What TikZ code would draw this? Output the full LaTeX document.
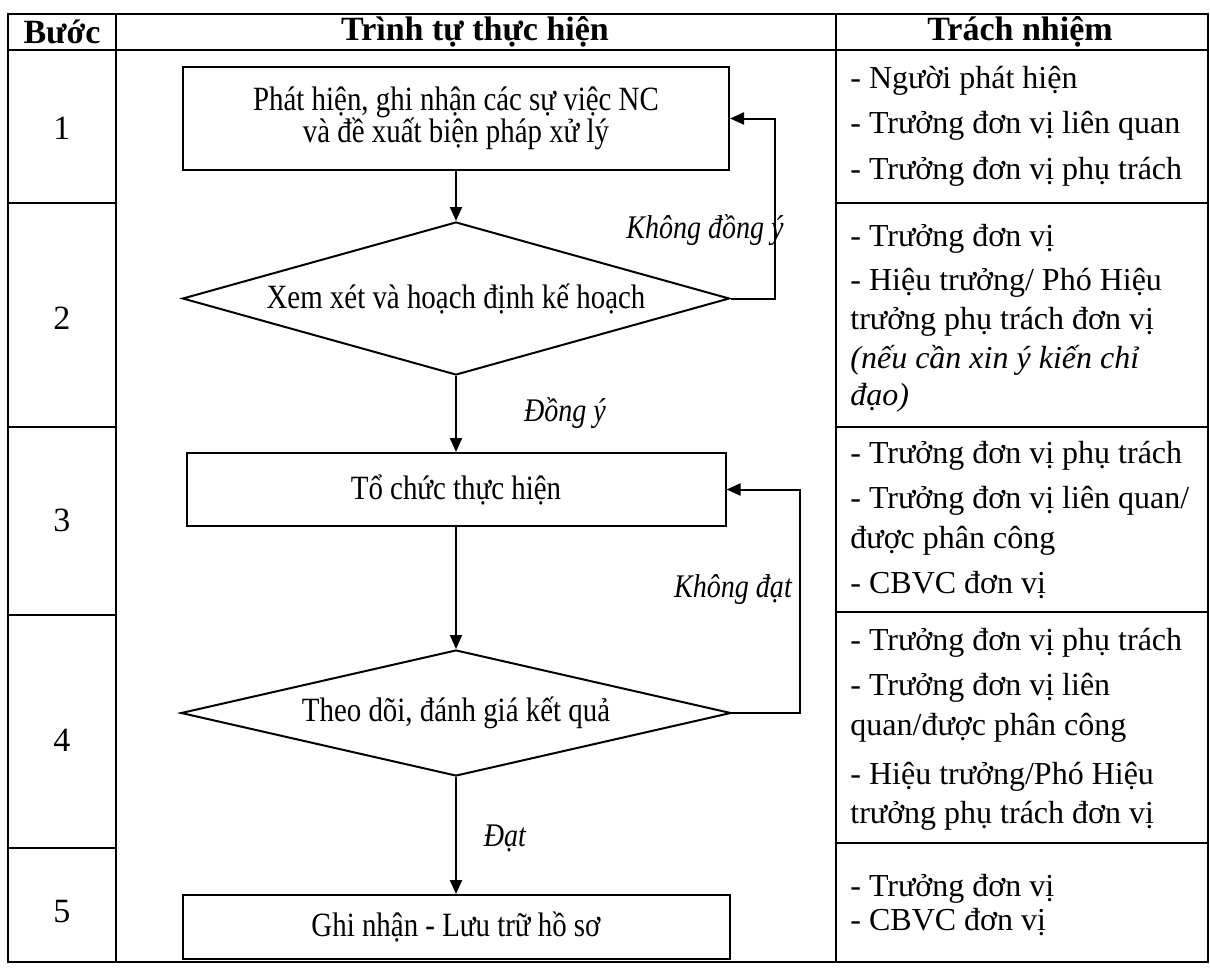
\documentclass[tikz,border=0pt]{standalone}
\usepackage{fontspec}
\setmainfont{Liberation Serif}
\newfontfamily\flowfont[FakeStretch=0.85]{Liberation Serif}
\usetikzlibrary{positioning,arrows.meta,shapes.geometric}

\begin{document}
\begin{tikzpicture}[x=0.5pt,y=-0.5pt,
  font=\fontsize{17}{19.5}\selectfont,
  grid/.style={line width=0.8pt},
  proc/.style={draw, line width=1pt, inner sep=0pt, align=center,
    font=\flowfont\fontsize{17}{16}\selectfont},
  dec/.style={draw, diamond, line width=1pt, inner sep=0pt, align=center,
    font=\flowfont\fontsize{17}{16}\selectfont},
  arr/.style={line width=1pt, -{Triangle[length=7pt,width=6pt]}},
  lbl/.style={font=\flowfont\fontsize{16.5}{19}\selectfont\itshape},
  resp/.style={anchor=base west, inner sep=0pt, font=\fontsize{16}{19}\selectfont}]
\useasboundingbox (0,0) rectangle (1210,969);
% table frame
\draw[grid] (8,14) rectangle (1208,962);
\draw[grid] (8,50) -- (1208,50);
\draw[grid] (116,14) -- (116,962);
\draw[grid] (836,14) -- (836,962);
\foreach \y in {203,427,615,848} \draw[grid] (8,\y) -- (116,\y);
\foreach \y in {203,427,612,843} \draw[grid] (836,\y) -- (1208,\y);
% header
\node[font=\fontsize{17}{19.5}\selectfont\bfseries] (hstep) at (62,32) {Bước};
\node[font=\fontsize{17}{19.5}\selectfont\bfseries] (hflow) at (475,32) {Trình tự thực hiện};
\node[font=\fontsize{17}{19.5}\selectfont\bfseries] (hresp) at (1020,32) {Trách nhiệm};
% step numbers
\foreach \y/\n in {128/1, 318/2, 520/3, 740/4, 912/5}
  \node (s\n) at (62,\y) {\n};
% flow
\node[proc, minimum width=273pt, minimum height=51.5pt] (b1) at (456,118.5)
  {Phát hiện, ghi nhận các sự việc NC\\và đề xuất biện pháp xử lý};
\node[dec, aspect=3.58, minimum width=273.5pt, minimum height=76.5pt] (d1) at (456,298.5)
  {Xem xét và hoạch định kế hoạch};
\node[proc, minimum width=269.5pt, minimum height=36.5pt] (b3) at (456,489.5)
  {Tổ chức thực hiện};
\node[dec, aspect=4.37, minimum width=275pt, minimum height=63pt] (d2) at (456,713)
  {Theo dõi, đánh giá kết quả};
\node[proc, minimum width=273.5pt, minimum height=32pt] (b5) at (456,927)
  {Ghi nhận - Lưu trữ hồ sơ};
\coordinate (k1) at (775,0);
\coordinate (k2) at (800,0);
\draw[arr] (b1) -- (d1);
\draw[arr] (d1) -- (b3);
\draw[arr] (b3) -- (d2);
\draw[arr] (d2) -- (b5);
\draw[arr] (d1.east) -| (k1 |- b1.east) -- (b1.east);
\draw[arr] (d2.east) -| (k2 |- b3.east) -- (b3.east);
\node[lbl] (no1) at (705,230) {Không đồng ý};
\node[lbl] (yes1) at (565,413) {Đồng ý};
\node[lbl] (no2) at (733,590) {Không đạt};
\node[lbl] (yes2) at (505,838) {Đạt};
% responsibilities
\foreach \y/\t [count=\i] in {88/{- Người phát hiện}, 133/{- Trưởng đơn vị liên quan},
    179/{- Trưởng đơn vị phụ trách}, 246/{- Trưởng đơn vị}, 290/{- Hiệu trưởng/ Phó Hiệu},
    329/{trưởng phụ trách đơn vị}, 368/{\textit{(nếu cần xin ý kiến chỉ}}, 405/{\textit{đạo)}},
    463/{- Trưởng đơn vị phụ trách}, 508/{- Trưởng đơn vị liên quan/}, 548/{được phân công},
    593/{- CBVC đơn vị}, 650/{- Trưởng đơn vị phụ trách}, 695/{- Trưởng đơn vị liên},
    735/{quan/được phân công}, 784/{- Hiệu trưởng/Phó Hiệu}, 823/{trưởng phụ trách đơn vị},
    896/{- Trưởng đơn vị}, 930/{- CBVC đơn vị}}
  \node[resp] (r\i) at (850,\y) {\t};
\end{tikzpicture}
\end{document}
